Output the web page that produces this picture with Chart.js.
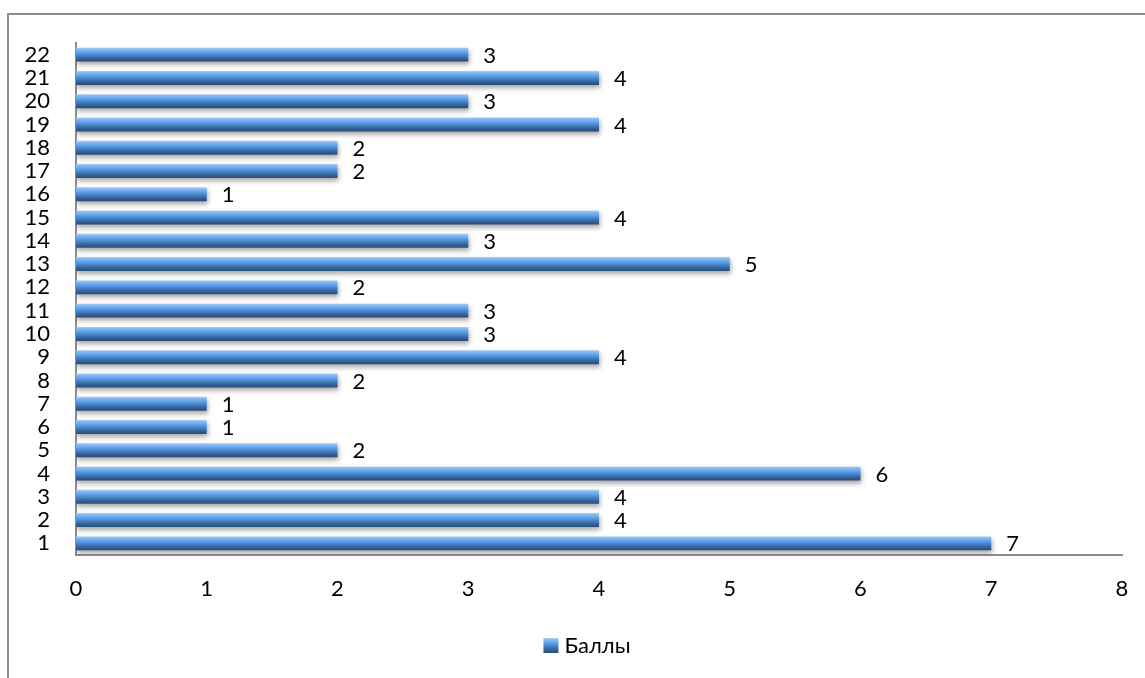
<!DOCTYPE html>
<html>
<head>
<meta charset="utf-8">
<script src="https://cdn.jsdelivr.net/npm/chart.js@4/dist/chart.umd.min.js"></script>
<style>
    body { margin: 0; background: #fff; overflow: hidden; }
    #wrap { position: relative; width: 1145px; height: 678px; }
    #frame { position: absolute; left: 7px; top: 13px; width: 1300px; height: 900px; border: 2px solid #8c8c8c; }
    #chart { position: absolute; left: 0; top: 0; }
</style>
</head>
<body>
<div id="wrap">
    <div id="frame"></div>
    <canvas id="chart" width="1145" height="678"></canvas>
</div>
<script>
// Data
const categories = ["1", "2", "3", "4", "5", "6", "7", "8", "9", "10", "11",
    "12", "13", "14", "15", "16", "17", "18", "19", "20", "21", "22"];
const scores = [7, 4, 4, 6, 2, 1, 1, 2, 4, 3, 3, 2, 5, 3, 4, 1, 2, 2, 4, 3, 4, 3];
const seriesName = "Баллы";
const xTicks = [0, 1, 2, 3, 4, 5, 6, 7, 8];

const FONT = "Lato, 'Liberation Sans', sans-serif";
const BAR_H = 14;

// gradient for one bar, top light -> bottom dark
barGradient = (ctx, top, h) => {
    const g = ctx.createLinearGradient(0, top, 0, top + h);
    g.addColorStop(0, "#b4d2ee");
    g.addColorStop(0.1, "#86bdf5");
    g.addColorStop(0.3, "#66a6ec");
    g.addColorStop(0.55, "#4683c8");
    g.addColorStop(0.8, "#335f96");
    g.addColorStop(1, "#2a4c76");
    return g;
};

const shadowPlugin = {
    id: "shadow",
    beforeDatasetsDraw(chart) {
        const ctx = chart.ctx;
        ctx.save();
        ctx.shadowColor = "rgba(0,0,0,0.35)";
        ctx.shadowBlur = 5;
        ctx.shadowOffsetX = 1;
        ctx.shadowOffsetY = 3;
    },
    afterDatasetsDraw(chart) {
        chart.ctx.restore();
    },
};

const labelsPlugin = {
    id: "valueLabels",
    afterDatasetsDraw(chart) {
        const ctx = chart.ctx;
        const meta = chart.getDatasetMeta(0);
        ctx.save();
        ctx.shadowColor = "transparent";
        ctx.font = "22px " + FONT;
        ctx.fillStyle = "#000";
        ctx.textAlign = "left";
        ctx.textBaseline = "middle";
        meta.data.forEach((bar, i) => {
            ctx.fillText(String(scores[i]), bar.x + 15, bar.y + 1);
        });
        ctx.restore();
    },
};

const legendPlugin = {
    id: "customLegend",
    afterDraw(chart) {
        const ctx = chart.ctx;
        ctx.save();
        ctx.font = "22px " + FONT;
        const tw = ctx.measureText(seriesName).width;
        const total = 15 + 6 + tw;
        const x0 = 587 - total / 2;
        const yc = 646;
        ctx.fillStyle = barGradient(ctx, yc - 8, 15);
        ctx.fillRect(x0, yc - 8, 15, 15);
        ctx.fillStyle = "#000";
        ctx.textBaseline = "middle";
        ctx.fillText(seriesName, x0 + 21, yc);
        ctx.restore();
    },
};

setupChart = () => {
    const config = {
        type: "bar",
        data: {
            labels: categories,
            datasets: [
                {
                    label: seriesName,
                    data: scores,
                    backgroundColor: (c) => {
                        const y = c.chart.scales.y;
                        if (!y || c.dataIndex === undefined) return "#4a7ebb";
                        const p = y.getPixelForValue(c.dataIndex);
                        if (!Number.isFinite(p)) return "#4a7ebb";
                        return barGradient(c.chart.ctx, p - BAR_H / 2, BAR_H);
                    },
                    borderWidth: 0,
                    barPercentage: 0.6,
                    categoryPercentage: 1.0,
                },
            ],
        },
        options: {
            indexAxis: "y",
            responsive: false,
            animation: false,
            layout: { padding: { top: 43, right: 23, left: 0, bottom: 0 } },
            plugins: {
                legend: { display: false },
                tooltip: { enabled: false },
            },
            scales: {
                x: {
                    min: 0,
                    max: 8,
                    afterBuildTicks: (s) => { s.ticks = xTicks.map((v) => ({ value: v })); },
                    grid: { display: false, drawTicks: false },
                    border: { display: true, color: "#8c8c8c", width: 2 },
                    ticks: { color: "#000", font: { family: FONT, size: 22 }, padding: 21 },
                    afterFit: (s) => {
                        s.height = 123;
                        s.paddingLeft = 0;
                        s.paddingRight = 0;
                    },
                },
                y: {
                    reverse: true,
                    grid: { display: false, drawTicks: false },
                    border: { display: true, color: "#8c8c8c", width: 2 },
                    ticks: { color: "#000", font: { family: FONT, size: 22 }, padding: 26, autoSkip: false },
                    afterFit: (s) => {
                        s.width = 76;
                        s.paddingTop = 0;
                        s.paddingBottom = 0;
                    },
                },
            },
        },
        plugins: [shadowPlugin, labelsPlugin, legendPlugin],
    };

    let ctx = document.getElementById("chart");
    let barChart = new Chart(ctx, config);
};

setupChart();
</script>
</body>
</html>
